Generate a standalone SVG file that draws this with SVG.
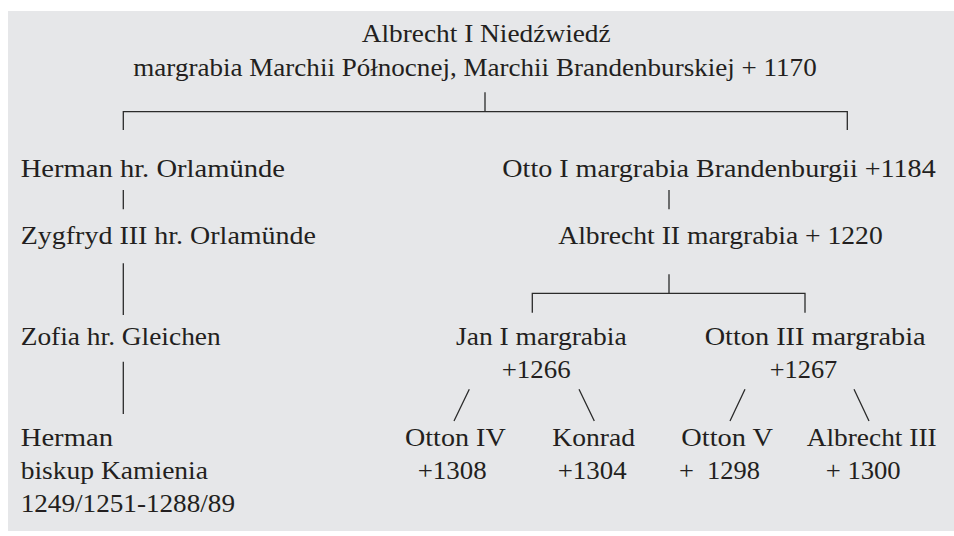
<svg xmlns="http://www.w3.org/2000/svg" width="954" height="536" viewBox="0 0 954 536">
<style>
  .t text { font-family: 'Liberation Serif', 'Times New Roman', 'DejaVu Serif', serif; font-size: 25px; fill: #231f20; }
  .ln { stroke: #2b2b2b; stroke-width: 1.3; fill: none; }
</style>
<rect x="0" y="0" width="954" height="536" fill="#ffffff"/>
<rect x="8" y="11" width="946" height="520" fill="#e6e7e9"/>
<g id="connectors">
  <path class="ln" d="M485,92.3 V111.7 M123.3,130 V111.7 H847.3 V130"/>
  <path class="ln" d="M123.3,190 V209.3 M123.3,263.3 V315 M123.3,361.7 V414"/>
  <path class="ln" d="M669,190 V209.3 M669,274.3 V293.3 M532.3,312.7 V293.3 H805 V312.7"/>
  <path class="ln" d="M469.3,389.3 L454,421 M579,389.3 L594.3,421 M745,389.3 L730,421 M854,389.3 L869,421"/>
</g>
<g class="t" font-family="Liberation Serif, serif">
<g id="albrecht1">
  <text x="361.7" y="42" textLength="249" lengthAdjust="spacingAndGlyphs">Albrecht I Niedźwiedź</text>
  <text x="133.3" y="76" textLength="683.4" lengthAdjust="spacingAndGlyphs">margrabia Marchii Północnej, Marchii Brandenburskiej + 1170</text>
</g>
<g id="herman1">
  <text x="20.7" y="176.7" textLength="264.3" lengthAdjust="spacingAndGlyphs">Herman hr. Orlamünde</text>
</g>
<g id="zygfryd">
  <text x="20.7" y="244" textLength="295.3" lengthAdjust="spacingAndGlyphs">Zygfryd III hr. Orlamünde</text>
</g>
<g id="zofia">
  <text x="20.7" y="345" textLength="200" lengthAdjust="spacingAndGlyphs">Zofia hr. Gleichen</text>
</g>
<g id="herman2">
  <text x="20.7" y="446" textLength="92.3" lengthAdjust="spacingAndGlyphs">Herman</text>
  <text x="20.7" y="479" textLength="187.3" lengthAdjust="spacingAndGlyphs">biskup Kamienia</text>
  <text x="20.7" y="512" textLength="214.3" lengthAdjust="spacingAndGlyphs">1249/1251-1288/89</text>
</g>
<g id="otto1">
  <text x="502.3" y="176.7" textLength="433.4" lengthAdjust="spacingAndGlyphs">Otto I margrabia Brandenburgii +1184</text>
</g>
<g id="albrecht2">
  <text x="558.3" y="244" textLength="324.4" lengthAdjust="spacingAndGlyphs">Albrecht II margrabia + 1220</text>
</g>
<g id="jan1">
  <text x="456" y="345" textLength="170.7" lengthAdjust="spacingAndGlyphs">Jan I margrabia</text>
  <text x="501.7" y="378.3" textLength="69" lengthAdjust="spacingAndGlyphs">+1266</text>
</g>
<g id="otton3">
  <text x="704.7" y="345" textLength="221" lengthAdjust="spacingAndGlyphs">Otton III margrabia</text>
  <text x="769.7" y="378.3" textLength="67.6" lengthAdjust="spacingAndGlyphs">+1267</text>
</g>
<g id="otton4">
  <text x="405" y="446" textLength="100.7" lengthAdjust="spacingAndGlyphs">Otton IV</text>
  <text x="417.7" y="479" textLength="69" lengthAdjust="spacingAndGlyphs">+1308</text>
</g>
<g id="konrad">
  <text x="552.3" y="446" textLength="82.7" lengthAdjust="spacingAndGlyphs">Konrad</text>
  <text x="557.7" y="479" textLength="69" lengthAdjust="spacingAndGlyphs">+1304</text>
</g>
<g id="otton5">
  <text x="681.3" y="446" textLength="91.7" lengthAdjust="spacingAndGlyphs">Otton V</text>
  <text x="679" y="479" textLength="81" lengthAdjust="spacingAndGlyphs" xml:space="preserve">+  1298</text>
</g>
<g id="albrecht3">
  <text x="806.7" y="446" textLength="130" lengthAdjust="spacingAndGlyphs">Albrecht III</text>
  <text x="825.7" y="479" textLength="75" lengthAdjust="spacingAndGlyphs">+ 1300</text>
</g>
</g>
</svg>
